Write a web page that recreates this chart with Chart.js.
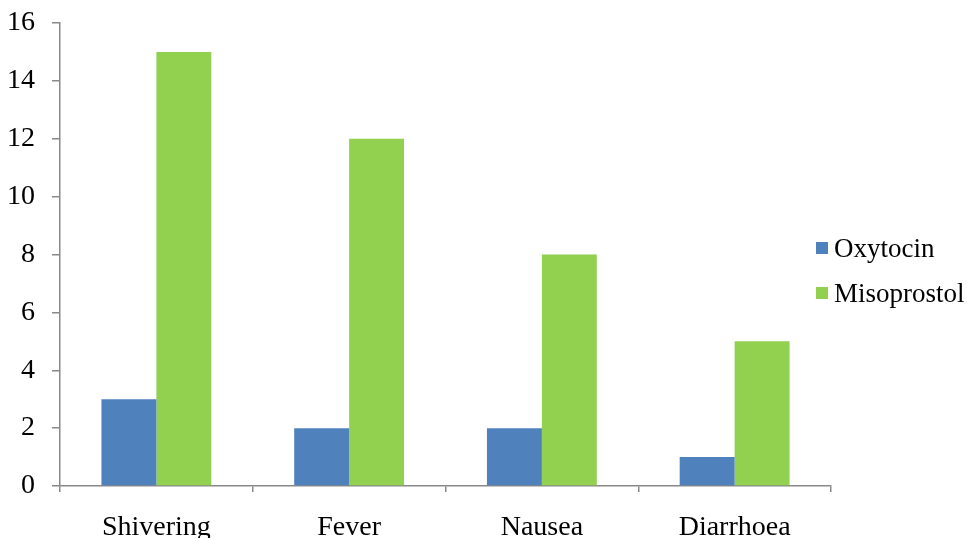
<!DOCTYPE html>
<html>
<head>
<meta charset="utf-8">
<script src="https://cdn.jsdelivr.net/npm/chart.js@4.4.1/dist/chart.umd.min.js"></script>
<style>
  html, body { margin: 0; padding: 0; background: #ffffff; overflow: hidden; }
  #wrap { width: 967px; height: 538px; position: relative; }
</style>
</head>
<body>
<div id="wrap"><canvas id="c" width="967" height="538"></canvas></div>
<script>
// Side effects reported per drug group
const categories = ['Shivering', 'Fever', 'Nausea', 'Diarrhoea'];
const oxytocin = [3, 2, 2, 1];
const misoprostol = [15, 12, 8, 5];
const yTicks = [0, 2, 4, 6, 8, 10, 12, 14, 16];

const FONT = "'Liberation Serif', 'Times New Roman', serif";
const AXIS_COLOR = '#898989';

// Legend drawn at the right edge, partly over the plot's right margin
const sideLegend = {
  id: 'sideLegend',
  afterDraw(chart) {
    const ctx = chart.ctx;
    ctx.save();
    ctx.font = '27px ' + FONT;
    ctx.textBaseline = 'middle';
    ctx.textAlign = 'left';
    const x0 = 816;
    const rows = [250, 295];
    chart.data.datasets.forEach((ds, i) => {
      const y = rows[i];
      ctx.fillStyle = ds.backgroundColor;
      ctx.fillRect(x0, y - 8, 12, 12);
      ctx.fillStyle = '#000000';
      ctx.fillText(ds.label, x0 + 18, y);
    });
    ctx.restore();
  }
};

new Chart(document.getElementById('c'), {
  type: 'bar',
  data: {
    labels: categories,
    datasets: [
      { label: 'Oxytocin', data: oxytocin, backgroundColor: '#4F81BD', borderWidth: 0 },
      { label: 'Misoprostol', data: misoprostol, backgroundColor: '#92D050', borderWidth: 0 }
    ]
  },
  options: {
    responsive: false,
    animation: false,
    devicePixelRatio: 1,
    layout: { padding: { top: 23, right: 136, left: 0, bottom: 0 } },
    categoryPercentage: 0.57,
    barPercentage: 1.0,
    plugins: {
      legend: { display: false },
      tooltip: { enabled: false }
    },
    scales: {
      x: {
        offset: true,
        grid: {
          offset: true,
          drawOnChartArea: false,
          drawTicks: true,
          tickLength: 6,
          color: AXIS_COLOR,
          lineWidth: 1.5
        },
        border: { display: true, color: AXIS_COLOR, width: 1.5 },
        ticks: {
          color: '#000000',
          font: { family: FONT, size: 28 },
          padding: 19,
          maxRotation: 0
        },
        afterFit(scale) {
          scale.height = 52;
          scale.paddingLeft = 0;
          scale.paddingRight = 0;
        }
      },
      y: {
        min: 0,
        max: 16,
        afterBuildTicks(scale) { scale.ticks = yTicks.map(v => ({ value: v })); },
        grid: {
          drawOnChartArea: false,
          drawTicks: true,
          tickLength: 8,
          color: AXIS_COLOR,
          lineWidth: 1.5
        },
        border: { display: true, color: AXIS_COLOR, width: 1.5 },
        ticks: {
          color: '#000000',
          font: { family: FONT, size: 28 },
          padding: 17
        },
        afterFit(scale) {
          scale.width = 60;
          scale.paddingTop = 0;
          scale.paddingBottom = 0;
        }
      }
    }
  },
  plugins: [sideLegend]
});
</script>
</body>
</html>
